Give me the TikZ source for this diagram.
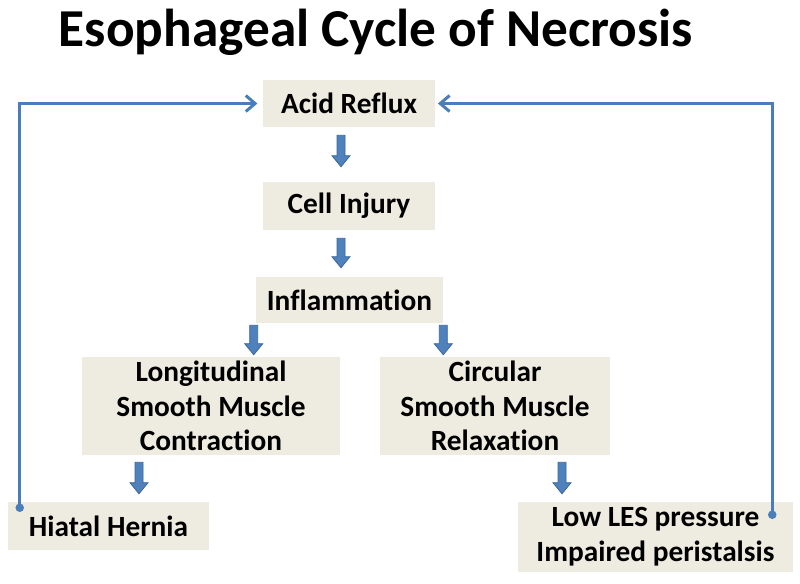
\documentclass[tikz,border=0pt]{standalone}
\usepackage{fontspec}
\setmainfont[Ligatures={NoCommon}]{Carlito}
\usetikzlibrary{calc,arrows.meta}
\definecolor{boxfill}{HTML}{EEECE1}
\definecolor{arrfill}{HTML}{4F81BD}
\definecolor{arrline}{HTML}{3A679C}
\definecolor{fbline}{HTML}{4A7EBB}
\tikzset{
  boxnode/.style={fill=boxfill, draw=none, align=center, inner sep=0pt,
    font=\bfseries\fontsize{22}{26}\selectfont},
  blk/.style={fill=arrfill, draw=arrline, line width=0.6pt, line join=miter,
    to path={let \p1=(\tikztostart), \p2=(\tikztotarget) in
      (\x1-3pt,\y1) -- (\x1+3pt,\y1) -- (\x1+3pt,\y2+8.25pt) -- (\x1+6.75pt,\y2+8.25pt)
      -- (\x1,\y2) -- (\x1-6.75pt,\y2+8.25pt) -- (\x1-3pt,\y2+8.25pt) -- cycle}},
  fb/.style={draw=fbline, line width=2.25pt, -{Straight Barb[length=7pt,width=12pt,line width=2.25pt]}},
  fbdot/.style={fill=fbline}
}
\begin{document}
\begin{tikzpicture}[x=0.75pt,y=-0.75pt]
\useasboundingbox[fill=white] (0,0) rectangle (800,583);

\node[anchor=base, font=\bfseries\fontsize{40}{48}\selectfont] (title) at (376,46) {Esophageal Cycle of Necrosis};

\node[boxnode, minimum width=129pt, minimum height=35.25pt] (acid) at (349,103.5) {Acid Reflux};
\node[boxnode, minimum width=129pt, minimum height=36pt] (cell) at (349,206) {Cell Injury};
\node[boxnode, minimum width=140.25pt, minimum height=34.5pt] (infl) at (349.5,300) {Inflammation};
\node[boxnode, minimum width=193.5pt, minimum height=73.5pt] (long) at (211,406) {Longitudinal\\Smooth Muscle\\Contraction};
\node[boxnode, minimum width=172.5pt, minimum height=73.5pt] (circ) at (495,406) {Circular\\Smooth Muscle\\Relaxation};
\node[boxnode, minimum width=150.75pt, minimum height=36pt] (hern) at (108.5,526) {Hiatal Hernia};
\node[boxnode, minimum width=206.25pt, minimum height=52.5pt] (low) at (655.5,537) {Low LES pressure\\Impaired peristalsis};

% block arrows
\path[blk] ($(acid.south)+(-8,8)$) to ($(cell.north)+(-8,-15)$);
\path[blk] ($(cell.south)+(-8,8)$) to ($(infl.north)+(-8.5,-9)$);
\path[blk] ($(infl.south west)+(-2,2)$) to ($(long.north)+(43,-2)$);
\path[blk] ($(infl.south east)+(0,2)$) to ($(circ.north)+(-52,-2)$);
\path[blk] ($(long.south)+(-72,7)$) to ($(hern.north)+(30.5,-8)$);
\path[blk] ($(circ.south)+(67,7)$) to ($(low.north)+(-93.5,-8)$);

% feedback connectors
\coordinate (hd) at ($(hern.north west)+(12,6)$);
\coordinate (ld) at ($(low.north east)+(-21,13)$);
\draw[fb, shorten >=4pt] (hd) |- (acid.west);
\draw[fb, shorten >=2pt] (ld) |- (acid.east);
\fill[fbdot] (hd) circle (3.2pt);
\fill[fbdot] (ld) circle (3.2pt);
\end{tikzpicture}
\end{document}
